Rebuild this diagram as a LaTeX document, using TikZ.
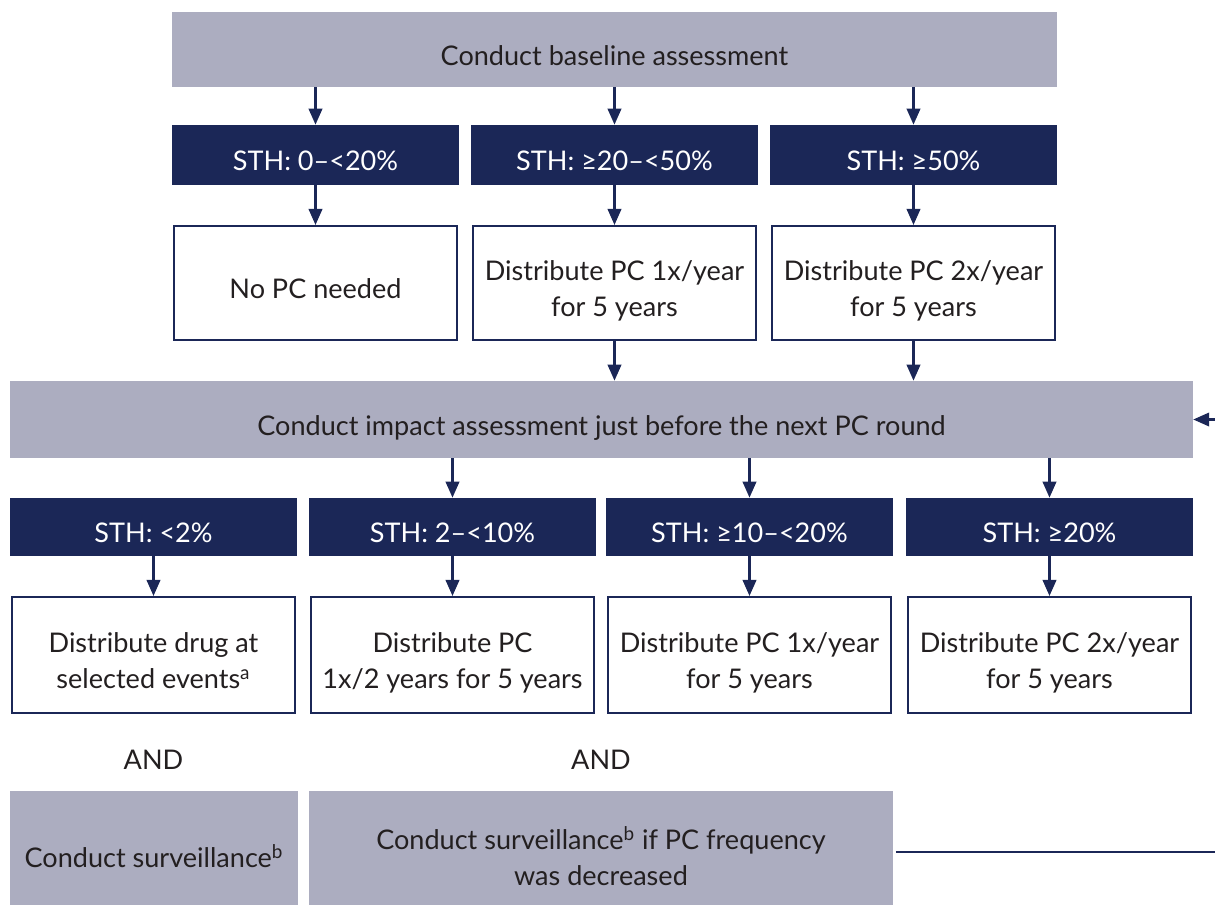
\documentclass[tikz,border=0pt]{standalone}
\usepackage{fontspec}
\setmainfont{Lato}
\usetikzlibrary{arrows.meta}
\definecolor{navy}{HTML}{1B2757}
\definecolor{graybox}{HTML}{ACADC0}
\definecolor{txt}{HTML}{231F20}
\newcommand\tx[1]{\raisebox{0pt}[\dimexpr\height+9.8pt\relax][\depth]{\begin{tabular}{@{}c@{}}#1\end{tabular}}}
\tikzset{
  base/.style={rectangle, inner sep=0pt, align=center, font=\fontsize{15.4}{20.5}\selectfont},
  graynode/.style={base, fill=graybox, text=txt},
  darknode/.style={base, fill=navy, text=white, minimum width=5.74cm, minimum height=1.2cm},
  darknodeb/.style={base, fill=navy, text=white, minimum width=5.74cm, minimum height=1.16cm},
  whitenode/.style={base, draw=navy, line width=1.2pt, fill=white, text=txt, minimum width=5.66cm},
  plain/.style={base, text=txt},
  arr/.style={draw=navy, line width=1.3pt, -{Triangle[length=0.32cm,width=0.27cm]}},
}
\begin{document}
\begin{tikzpicture}[x=0.02cm, y=-0.02cm]
\useasboundingbox (0,0) rectangle (1215,904);
% top
\node[graynode, minimum width=17.7cm, minimum height=1.5cm] (top) at (614.5,49.5) {\tx{Conduct baseline assessment}};
\node[darknode] (d1) at (315.5,155) {\tx{STH: 0–<20\%}};
\node[darknode] (d2) at (614.5,155) {\tx{STH: ≥20–<50\%}};
\node[darknode] (d3) at (913.5,155) {\tx{STH: ≥50\%}};
\node[whitenode, minimum height=2.28cm] (w1) at (315.5,283) {\tx{No PC needed}};
\node[whitenode, minimum height=2.28cm] (w2) at (614.5,283) {\tx{Distribute PC 1x/year\\for 5 years}};
\node[whitenode, minimum height=2.28cm] (w3) at (913.5,283) {\tx{Distribute PC 2x/year\\for 5 years}};
% impact
\node[graynode, minimum width=23.66cm, minimum height=1.54cm] (imp) at (601.5,419.5) {\tx{Conduct impact assessment just before the next PC round}};
\node[darknodeb] (e1) at (153.5,527) {\tx{STH: <2\%}};
\node[darknodeb] (e2) at (452.5,527) {\tx{STH: 2–<10\%}};
\node[darknodeb] (e3) at (749.5,527) {\tx{STH: ≥10–<20\%}};
\node[darknodeb] (e4) at (1049.5,527) {\tx{STH: ≥20\%}};
\node[whitenode, minimum height=2.32cm] (v1) at (153.5,655) {\tx{Distribute drug at\\selected events\textsuperscript{a}}};
\node[whitenode, minimum height=2.32cm] (v2) at (452.5,655) {\tx{Distribute PC\\1x/2 years for 5 years}};
\node[whitenode, minimum height=2.32cm] (v3) at (749.5,655) {\tx{Distribute PC 1x/year\\for 5 years}};
\node[whitenode, minimum height=2.32cm] (v4) at (1049.5,655) {\tx{Distribute PC 2x/year\\for 5 years}};
\node[plain] (and1) at (153.5,754) {\tx{AND}};
\node[plain] (and2) at (601,754) {\tx{AND}};
\node[graynode, minimum width=5.76cm, minimum height=2.44cm] (s1) at (154,852) {\tx{Conduct surveillance\textsuperscript{b}}};
\node[graynode, minimum width=11.68cm, minimum height=2.44cm] (s2) at (601,852) {\tx{Conduct surveillance\textsuperscript{b} if PC frequency\\was decreased}};
\coordinate (loopR) at (1240,852);
% arrows
\foreach \n in {d1,d2,d3} \draw[arr] (\n |- top.south) -- (\n.north);
\foreach \a/\b in {d1/w1,d2/w2,d3/w3} \draw[arr] (\a.south) -- (\b.north);
\foreach \n in {w2,w3} \draw[arr] (\n.south) -- (\n |- imp.north);
\foreach \n in {e2,e3,e4} \draw[arr] (\n |- imp.south) -- (\n.north);
\foreach \a/\b in {e1/v1,e2/v2,e3/v3,e4/v4} \draw[arr] (\a.south) -- (\b.north);
\draw[arr] ([xshift=1.5pt]s2.east) -- (loopR) |- (imp.east);
\end{tikzpicture}
\end{document}
